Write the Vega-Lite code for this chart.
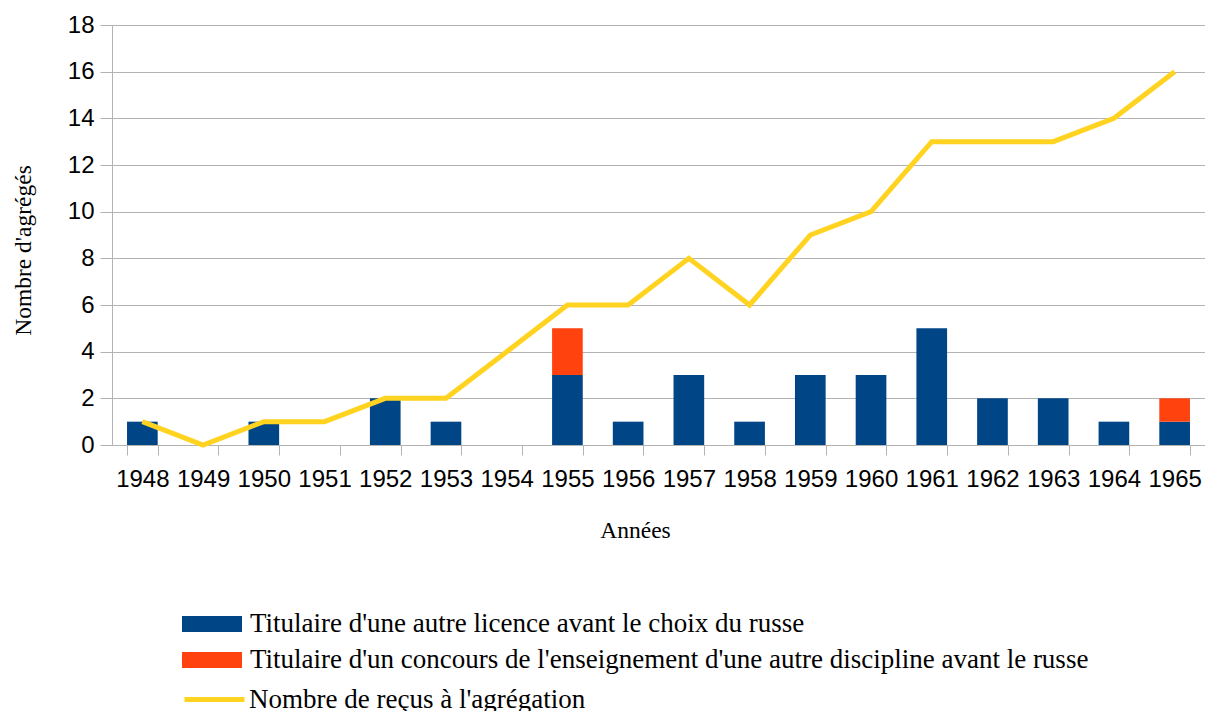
{
  "$schema": "https://vega.github.io/schema/vega-lite/v6.json",
  "width": 1093,
  "height": 420,
  "autosize": {"type": "none"},
  "padding": {"left": 112, "top": 25, "right": 0, "bottom": 266},
  "background": "white",
  "config": {
    "view": {"stroke": null},
    "axis": {
      "labelFont": "Liberation Sans",
      "labelFontSize": 24,
      "labelColor": "#000000",
      "titleFont": "Liberation Serif",
      "titleFontSize": 23.5,
      "titleFontWeight": "normal",
      "titleColor": "#000000",
      "gridColor": "#b3b3b3",
      "domainColor": "#b3b3b3",
      "tickColor": "#b3b3b3"
    },
    "legend": {
      "labelFont": "Liberation Serif",
      "labelFontSize": 27,
      "labelColor": "#000000",
      "padding": 0,
      "labelLimit": 1000
    }
  },
  "datasets": {
    "bars": [
      {"year": "1948", "cat": "Titulaire d'une autre licence avant le choix du russe", "ord": 1, "value": 1},
      {"year": "1949", "cat": "Titulaire d'une autre licence avant le choix du russe", "ord": 1, "value": 0},
      {"year": "1950", "cat": "Titulaire d'une autre licence avant le choix du russe", "ord": 1, "value": 1},
      {"year": "1951", "cat": "Titulaire d'une autre licence avant le choix du russe", "ord": 1, "value": 0},
      {"year": "1952", "cat": "Titulaire d'une autre licence avant le choix du russe", "ord": 1, "value": 2},
      {"year": "1953", "cat": "Titulaire d'une autre licence avant le choix du russe", "ord": 1, "value": 1},
      {"year": "1954", "cat": "Titulaire d'une autre licence avant le choix du russe", "ord": 1, "value": 0},
      {"year": "1955", "cat": "Titulaire d'une autre licence avant le choix du russe", "ord": 1, "value": 3},
      {"year": "1956", "cat": "Titulaire d'une autre licence avant le choix du russe", "ord": 1, "value": 1},
      {"year": "1957", "cat": "Titulaire d'une autre licence avant le choix du russe", "ord": 1, "value": 3},
      {"year": "1958", "cat": "Titulaire d'une autre licence avant le choix du russe", "ord": 1, "value": 1},
      {"year": "1959", "cat": "Titulaire d'une autre licence avant le choix du russe", "ord": 1, "value": 3},
      {"year": "1960", "cat": "Titulaire d'une autre licence avant le choix du russe", "ord": 1, "value": 3},
      {"year": "1961", "cat": "Titulaire d'une autre licence avant le choix du russe", "ord": 1, "value": 5},
      {"year": "1962", "cat": "Titulaire d'une autre licence avant le choix du russe", "ord": 1, "value": 2},
      {"year": "1963", "cat": "Titulaire d'une autre licence avant le choix du russe", "ord": 1, "value": 2},
      {"year": "1964", "cat": "Titulaire d'une autre licence avant le choix du russe", "ord": 1, "value": 1},
      {"year": "1965", "cat": "Titulaire d'une autre licence avant le choix du russe", "ord": 1, "value": 1},
      {"year": "1955", "cat": "Titulaire d'un concours de l'enseignement d'une autre discipline avant le russe", "ord": 2, "value": 2},
      {"year": "1965", "cat": "Titulaire d'un concours de l'enseignement d'une autre discipline avant le russe", "ord": 2, "value": 1}
    ],
    "line": [
      {"year": "1948", "total": 1},
      {"year": "1949", "total": 0},
      {"year": "1950", "total": 1},
      {"year": "1951", "total": 1},
      {"year": "1952", "total": 2},
      {"year": "1953", "total": 2},
      {"year": "1954", "total": 4},
      {"year": "1955", "total": 6},
      {"year": "1956", "total": 6},
      {"year": "1957", "total": 8},
      {"year": "1958", "total": 6},
      {"year": "1959", "total": 9},
      {"year": "1960", "total": 10},
      {"year": "1961", "total": 13},
      {"year": "1962", "total": 13},
      {"year": "1963", "total": 13},
      {"year": "1964", "total": 14},
      {"year": "1965", "total": 16}
    ]
  },
  "encoding": {
    "x": {
      "field": "year",
      "type": "ordinal",
      "scale": {"paddingInner": 0.495, "paddingOuter": 0.2475},
      "axis": {
        "title": "Années",
        "labelAngle": 0,
        "tickBand": "extent",
        "tickSize": 10,
        "labelPadding": 12,
        "grid": false,
        "titleX": 523,
        "titleY": 85,
        "titleBaseline": "middle",
        "titleAlign": "center"
      }
    }
  },
  "layer": [
    {
      "data": {"name": "bars"},
      "mark": {"type": "bar"},
      "encoding": {
        "y": {
          "field": "value",
          "type": "quantitative",
          "stack": "zero",
          "scale": {"domain": [0, 18], "nice": false},
          "axis": {
            "title": "Nombre d'agrégés",
            "values": [0, 2, 4, 6, 8, 10, 12, 14, 16, 18],
            "tickSize": 12,
            "labelPadding": 6,
            "grid": true,
            "titleX": -89,
            "titleY": 225,
            "titleBaseline": "middle",
            "titleAlign": "center",
            "titleAngle": -90
          }
        },
        "fill": {
          "field": "cat",
          "type": "nominal",
          "scale": {
            "domain": ["Titulaire d'une autre licence avant le choix du russe", "Titulaire d'un concours de l'enseignement d'une autre discipline avant le russe"],
            "range": ["#004586", "#ff420e"]
          },
          "legend": {
            "title": null,
            "orient": "none",
            "legendX": 85,
            "legendY": 584,
            "symbolType": "M-2,-0.533H2V0.533H-2Z",
            "symbolSize": 900,
            "symbolStrokeWidth": 0,
            "symbolOpacity": 1,
            "labelOffset": 23,
            "rowPadding": 8
          }
        },
        "order": {"field": "ord", "type": "quantitative"}
      }
    },
    {
      "data": {"name": "line"},
      "mark": {"type": "line", "strokeWidth": 5, "strokeJoin": "miter"},
      "encoding": {
        "y": {"field": "total", "type": "quantitative"},
        "stroke": {
          "datum": "Nombre de reçus à l'agrégation",
          "type": "nominal",
          "scale": {"range": ["#ffd320"]},
          "legend": {
            "title": null,
            "orient": "none",
            "legendX": 70,
            "legendY": 642,
            "symbolType": "stroke",
            "symbolSize": 3600,
            "symbolStrokeWidth": 5,
            "labelOffset": 2
          }
        }
      }
    }
  ]
}
